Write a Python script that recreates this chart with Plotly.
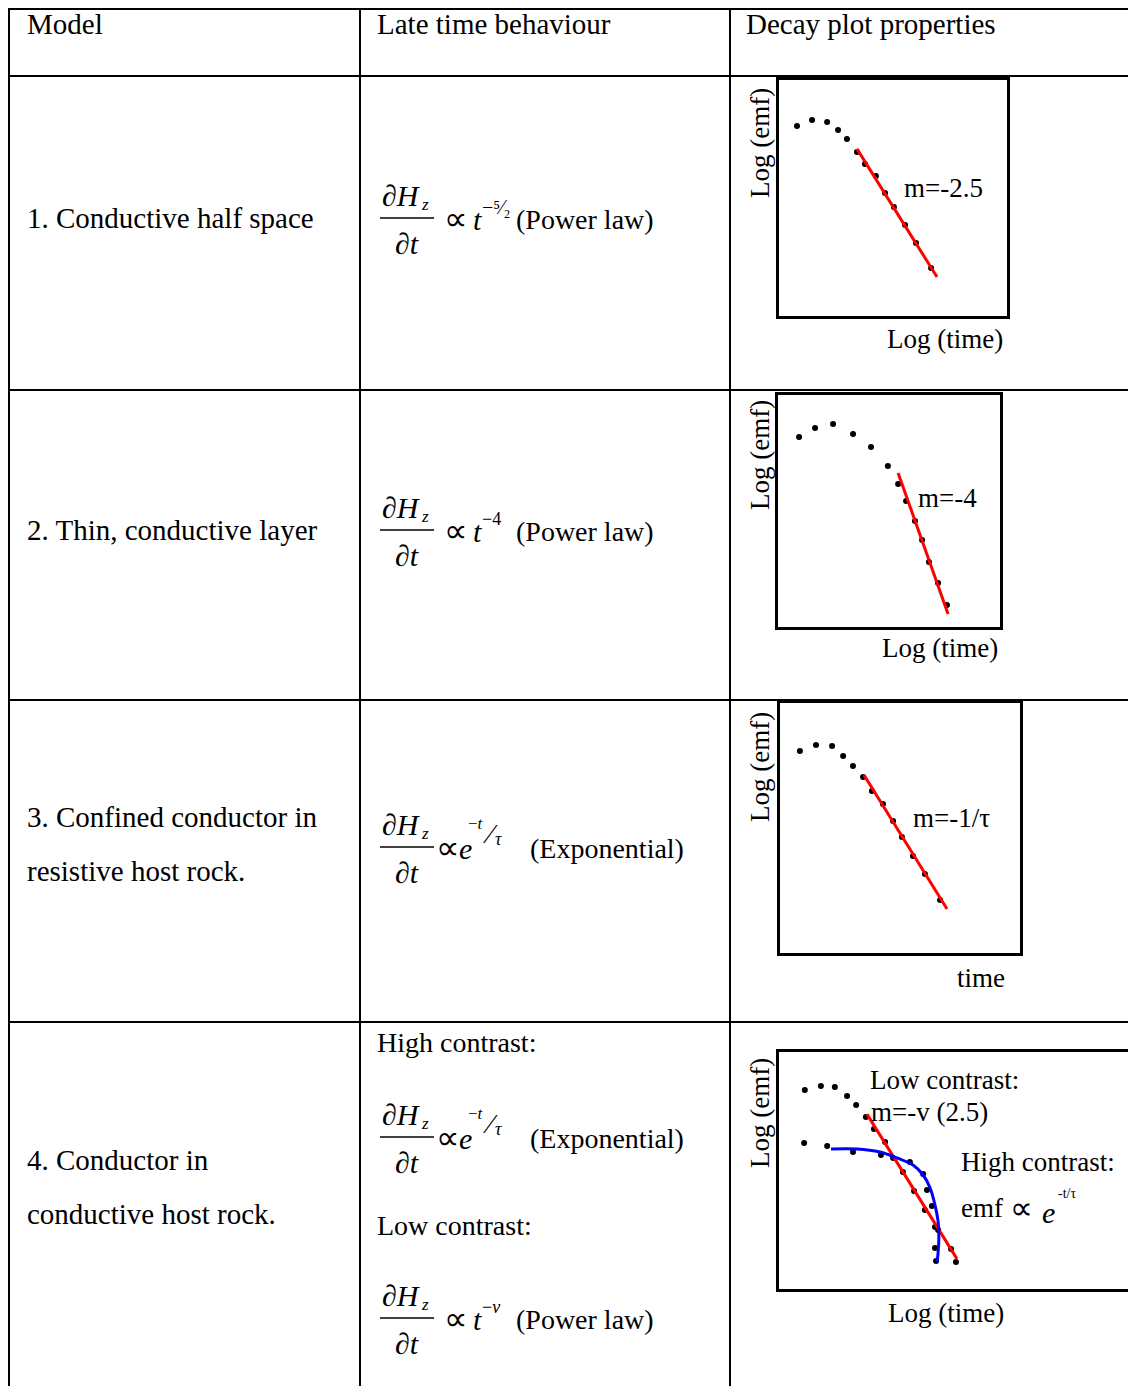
import plotly.graph_objects as go

PAGE_W, PAGE_H = 1136, 1386
PAD = 8  # browser body margin
W, H = PAGE_W - PAD, PAGE_H - PAD
SERIF = "Liberation Serif"

# ---------------- table content ----------------
headers = ["Model", "Late time behaviour", "Decay plot properties"]
models = [["1. Conductive half space"],
          ["2. Thin, conductive layer"],
          ["3. Confined conductor in", "resistive host rock."],
          ["4. Conductor in", "conductive host rock."]]

# ---------------- decay-plot data (arbitrary log units, 0-10 scale) ----------------
p1_t = [0.79, 1.45, 2.11, 2.59, 2.98, 3.42, 3.77, 4.25, 4.65, 5.04, 5.53, 6.01, 6.67]
p1_emf = [8.05, 8.31, 8.22, 7.88, 7.50, 6.95, 6.44, 5.93, 5.21, 4.62, 3.86, 3.09, 2.03]
p1_fit_t = [3.42, 6.93]
p1_fit_emf = [7.08, 1.65]

p2_t = [0.95, 1.67, 2.48, 3.38, 4.19, 4.95, 5.41, 5.77, 6.17, 6.49, 6.80, 7.21, 7.61]
p2_emf = [8.19, 8.58, 8.75, 8.32, 7.76, 6.94, 6.16, 5.43, 4.57, 3.75, 2.80, 1.90, 0.95]
p2_fit_t = [5.41, 7.66]
p2_fit_emf = [6.64, 0.56]

p3_t = [0.83, 1.50, 2.17, 2.63, 3.04, 3.46, 3.83, 4.29, 4.71, 5.08, 5.54, 6.04, 6.67]
p3_emf = [8.08, 8.32, 8.28, 7.88, 7.48, 7.04, 6.48, 5.96, 5.28, 4.64, 3.88, 3.16, 2.12]
p3_fit_t = [3.50, 6.96]
p3_fit_emf = [7.12, 1.76]

p4_low_t = [0.74, 1.20, 1.60, 1.95, 2.21, 2.49, 2.72, 3.04, 3.27, 3.55, 3.87, 4.18, 4.56, 4.93, 5.07]
p4_low_emf = [8.40, 8.57, 8.52, 8.14, 7.76, 7.26, 6.75, 6.20, 5.53, 4.94, 4.14, 3.33, 2.49, 1.69, 1.14]
p4_high_t = [0.72, 1.38, 2.12, 2.92, 3.75, 4.13, 4.24, 4.38, 4.47, 4.47, 4.50]
p4_high_emf = [6.16, 6.03, 5.78, 5.65, 5.36, 4.85, 4.18, 3.50, 2.62, 1.73, 1.18]
p4_low_fit_t = [2.52, 5.10]
p4_low_fit_emf = [7.38, 1.27]
p4_high_fit_t = [1.49, 2.23, 2.89, 3.38, 3.84, 4.13, 4.33, 4.47, 4.56, 4.58, 4.56, 4.53]
p4_high_fit_emf = [5.91, 5.91, 5.78, 5.53, 5.23, 4.81, 4.26, 3.54, 2.83, 2.15, 1.56, 1.14]

# ---------------- layout geometry (page pixels) ----------------
col_x = [8, 360, 730]
row_y = [5, 76, 390, 700, 1022]
boxes = [(779, 1007, 80, 316), (778, 1000, 395, 627), (780, 1020, 703, 953), (779, 1128, 1052, 1289)]

fig = go.Figure()

def add_plot(i, traces):
    for tr in traces:
        tr.update(xaxis="x%d" % (i + 2), yaxis="y%d" % (i + 2), showlegend=False, hoverinfo="skip")
        fig.add_trace(tr)

def dots(t, e):
    return go.Scatter(x=t, y=e, mode="markers", marker=dict(color="black", size=6))

def line(t, e, color, spline=False):
    return go.Scatter(x=t, y=e, mode="lines",
                      line=dict(color=color, width=3, shape="spline" if spline else "linear"))

add_plot(0, [dots(p1_t, p1_emf), line(p1_fit_t, p1_fit_emf, "#ff0000")])
add_plot(1, [dots(p2_t, p2_emf), line(p2_fit_t, p2_fit_emf, "#ff0000")])
add_plot(2, [dots(p3_t, p3_emf), line(p3_fit_t, p3_fit_emf, "#ff0000")])
add_plot(3, [dots(p4_low_t, p4_low_emf), dots(p4_high_t, p4_high_emf),
             line(p4_low_fit_t, p4_low_fit_emf, "#ff0000"),
             line(p4_high_fit_t, p4_high_fit_emf, "#0000ff", spline=True)])

# invisible base trace for the page axis
fig.add_trace(go.Scatter(x=[PAD, PAGE_W], y=[PAD, PAGE_H], mode="markers", marker=dict(opacity=0),
                         showlegend=False, hoverinfo="skip", xaxis="x", yaxis="y"))

layout = dict(
    width=W, height=H, margin=dict(l=0, r=0, t=0, b=0),
    paper_bgcolor="white", plot_bgcolor="white",
    xaxis=dict(range=[PAD, PAGE_W], domain=[0, 1], visible=False, fixedrange=True),
    yaxis=dict(range=[PAGE_H, PAD], domain=[0, 1], visible=False, fixedrange=True),
)
for i, (x0, x1, y0, y1) in enumerate(boxes):
    ax = dict(range=[0, 10], showticklabels=False, ticks="", showgrid=False, zeroline=False,
              showline=True, mirror=True, linecolor="black", linewidth=2.5, fixedrange=True)
    layout["xaxis%d" % (i + 2)] = dict(ax, domain=[(x0 - PAD) / W, (x1 - PAD) / W], anchor="y%d" % (i + 2))
    layout["yaxis%d" % (i + 2)] = dict(ax, domain=[1 - (y1 - PAD) / H, 1 - (y0 - PAD) / H], anchor="x%d" % (i + 2))
fig.update_layout(**layout)

shapes = []
def hline(x0, x1, y, w=2):
    shapes.append(dict(type="line", xref="x", yref="y", x0=x0, x1=x1, y0=y, y1=y,
                       line=dict(color="black", width=w)))
def vline(x, y0, y1, w=2):
    shapes.append(dict(type="line", xref="x", yref="y", x0=x, x1=x, y0=y0, y1=y1,
                       line=dict(color="black", width=w)))

for y in row_y:
    hline(col_x[0], PAGE_W, max(y, PAD + 1))
for x in col_x:
    vline(max(x, PAD + 1), row_y[0], PAGE_H)

ann = []
def txt(x, y, s, size=29, anchor="left", angle=0):
    ann.append(dict(x=x, y=y, xref="x", yref="y", text=s, showarrow=False,
                    xanchor=anchor, yanchor="middle", textangle=angle,
                    font=dict(family=SERIF, size=size, color="black")))

# headers
txt(25, 24, headers[0])
txt(375, 24, headers[1])
txt(744, 24, headers[2])

# model column
txt(25, 218, models[0][0])
txt(25, 530, models[1][0])
txt(25, 817, models[2][0]); txt(25, 871, models[2][1])
txt(25, 1160, models[3][0]); txt(25, 1214, models[3][1])

# formulas
def frac(y0):
    txt(380, y0 - 23, "<i>∂H</i>", size=30)
    txt(419, y0 - 14, "<i>z</i>", size=17)
    hline(380, 434, y0, w=1.5)
    txt(393, y0 + 25, "<i>∂t</i>", size=30)

def power(y0, sup, tail, supsize=18):
    frac(y0)
    txt(442, y0 + 1, "∝", size=33)
    txt(471, y0 + 1, "<i>t</i>", size=30)
    txt(480, y0 - 11, sup, size=supsize)
    txt(514, y0 + 1, tail, size=28)

def expo(y0):
    frac(y0)
    txt(434, y0 + 1, "∝", size=33)
    txt(457, y0 + 1, "<i>e</i>", size=30)
    txt(466, y0 - 24, "−<i>t</i>", size=17)
    txt(481, y0 - 14, "⁄", size=28)
    txt(493, y0 - 8, "<i>τ</i>", size=18)
    txt(528, y0 + 1, "(Exponential)", size=28)

power(218, "−⁵⁄₂", "(Power law)", supsize=20)
power(530, "−4", "(Power law)")
expo(847)
txt(375, 1042, "High contrast:", size=28)
expo(1137)
txt(375, 1225, "Low contrast:", size=28)
power(1318, "−<i>v</i>", "(Power law)")

# decay plot labels
for (cx, cy) in [(760, 143), (760, 455), (760, 767), (760, 1113)]:
    txt(cx, cy, "Log (emf)", size=27, anchor="center", angle=-90)
txt(945, 339, "Log (time)", size=27, anchor="center")
txt(940, 648, "Log (time)", size=27, anchor="center")
txt(981, 978, "time", size=27, anchor="center")
txt(946, 1313, "Log (time)", size=27, anchor="center")

txt(902, 188, "m=-2.5", size=27)
txt(916, 498, "m=-4", size=27)
txt(911, 818, "m=-1/τ", size=27)
txt(868, 1080, "Low contrast:", size=27)
txt(869, 1112, "m=-v (2.5)", size=27)
txt(959, 1162, "High contrast:", size=27)
txt(959, 1208, "emf", size=27)
txt(1008, 1208, "∝", size=32)
txt(1040, 1212, "<i>e</i>", size=30)
txt(1056, 1193, "-t/τ", size=14)

fig.update_layout(shapes=shapes, annotations=ann)
fig.write_html("out.html")
